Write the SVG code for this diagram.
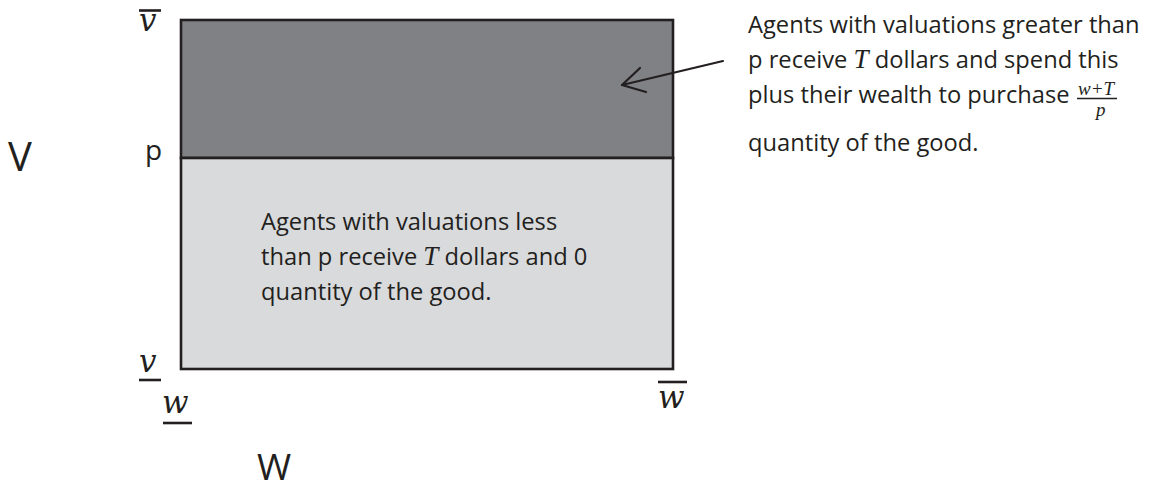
<svg xmlns="http://www.w3.org/2000/svg" width="1150" height="491" viewBox="0 0 1150 491">
<style>
.t{font-family:"Open Sans","Liberation Sans",sans-serif;font-size:23.7px;fill:#231f20}
.m{font-family:"Liberation Serif","DejaVu Serif",serif;font-style:italic;fill:#231f20}
.d{font-family:"DejaVu Serif","Liberation Serif",serif;font-style:italic;fill:#231f20;font-size:31px}
.big{font-family:"Open Sans","Liberation Sans",sans-serif;fill:#231f20}
.bar{stroke:#231f20;stroke-width:2.6}
</style>
<rect width="1150" height="491" fill="#ffffff"/>
<g id="upper-region">
<rect x="181" y="20" width="492" height="138" fill="#808184" stroke="#231f20" stroke-width="2.6"/>
</g>
<g id="lower-region">
<rect x="181" y="158" width="492" height="211" fill="#d9dadc" stroke="#231f20" stroke-width="2.6"/>
<text class="t" x="261" y="230">Agents with valuations less</text>
<text class="t" x="261" y="265">than p receive <tspan class="m" font-size="27">T</tspan> dollars and 0</text>
<text class="t" x="261" y="300">quantity of the good.</text>
</g>
<g id="axis-labels">
<text class="big" x="8" y="171" font-size="40">V</text>
<text class="big" x="257" y="480" font-size="37">W</text>
<text class="big" x="145" y="160" font-size="28">p</text>
<line class="bar" x1="139" y1="10.5" x2="161" y2="10.5"/>
<text class="d" x="139" y="31">v</text>
<text class="d" x="139" y="372">v</text>
<line class="bar" x1="139" y1="380" x2="161" y2="380"/>
<text class="d" x="162" y="413">w</text>
<line class="bar" x1="163" y1="423" x2="192" y2="423"/>
<line class="bar" x1="658" y1="382" x2="687" y2="382"/>
<text class="d" x="658" y="408">w</text>
</g>
<g id="annotation">
<text class="t" x="748" y="33">Agents with valuations greater than</text>
<text class="t" x="748" y="68">p receive <tspan class="m" font-size="27">T</tspan> dollars and spend this</text>
<text class="t" x="748" y="103">plus their wealth to purchase</text>
<text class="m" x="1078" y="95" font-size="19">w+T</text>
<line x1="1077" y1="98.5" x2="1117" y2="98.5" stroke="#231f20" stroke-width="1.5"/>
<text class="m" x="1096" y="116" font-size="19">p</text>
<text class="t" x="748" y="151">quantity of the good.</text>
</g>
<g id="connectors" fill="none" stroke="#231f20" stroke-width="2.2" stroke-linecap="round" stroke-linejoin="round">
<line x1="723" y1="61" x2="622" y2="85"/>
<polyline points="640,68 622,85 646,92"/>
</g>
</svg>
